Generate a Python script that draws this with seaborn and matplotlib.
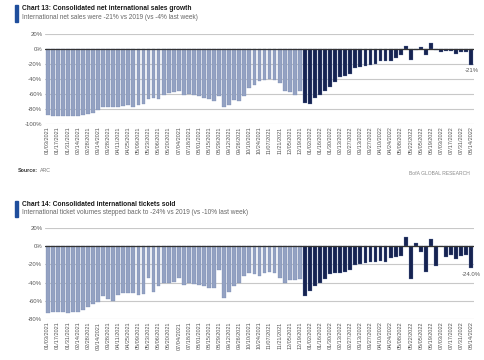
import matplotlib
matplotlib.use("Agg")
import matplotlib.pyplot as plt
import matplotlib.patches as patches
import seaborn as sns
import pandas as pd

# weekly dates, week ending (sunday)
weeks = pd.date_range("2021-01-03", periods=85, freq="7D").strftime("%m/%d/%Y").tolist()
n_light = 51  # older weeks drawn in light blue, rest in navy

# Chart 13: net international sales growth vs 2019 (%)
sales = [-88, -89, -89, -89, -90, -89, -89, -88, -87, -85, -81, -78, -77, -77, -77, -76, -75,
         -77, -75, -73, -67, -66, -67, -61, -59, -58, -56, -61, -60, -62, -63, -65, -67, -69,
         -63, -77, -75, -68, -70, -63,
         -52, -48, -43, -41, -40, -41, -45, -56, -57, -61, -56,
         -72, -73, -66, -61, -56, -51, -44, -38, -36, -34, -25, -24, -23, -21, -20, -16, -16,
         -16, -12, -8, 4, -15, -1, 2, -8, 8, -2, -4, -3, -3, -7, -4, -4, -21]

# Chart 14: international tickets sold vs 2019 (%)
tickets = [-73, -72, -72, -72, -73, -72, -72, -70, -67, -64, -61, -55, -58, -60, -54, -52, -51,
           -52, -54, -53, -35, -50, -44, -40, -40, -39, -35, -43, -41, -42, -43, -44, -46, -46,
           -26, -57, -50, -44,
           -41, -33, -30, -31, -33, -30, -28, -30, -35, -41, -37, -37, -36,
           -55, -49, -44, -40, -36, -31, -30, -29, -28, -26, -21, -20, -19, -18, -17, -16, -17,
           -13, -12, -11, 10, -36, 3, -7, -28, 8, -22, 0, -12, -10, -14, -11, -10, -24]

charts = [
    {"title": "Chart 13: Consolidated net international sales growth",
     "sub": "International net sales were -21% vs 2019 (vs -4% last week)",
     "vals": sales, "yticks": [20, 0, -20, -40, -60, -80, -100], "last": "-21%",
     "pos": [0.093, 0.656, 0.884, 0.250], "head": 0.985},
    {"title": "Chart 14: Consolidated international tickets sold",
     "sub": "International ticket volumes stepped back to -24% vs 2019 (vs -10% last week)",
     "vals": tickets, "yticks": [20, 0, -20, -40, -60, -80], "last": "-24.0%",
     "pos": [0.093, 0.114, 0.884, 0.253], "head": 0.442},
]

light = "#8c9fca"
navy = "#0c1d5b"
fam = ["Liberation Sans Narrow", "Liberation Sans", "DejaVu Sans"]

sns.set_style("white")
plt.rcParams["font.family"] = fam

fig = plt.figure(figsize=(4.85, 3.6), dpi=100)

for c in charts:
    df = pd.DataFrame({"week": weeks, "val": c["vals"],
                       "grp": ["old"] * n_light + ["new"] * (len(weeks) - n_light)})
    ax = fig.add_axes(c["pos"])
    for yv in c["yticks"]:
        ax.axhline(yv, color="#c8c8c8", lw=0.8, zorder=0)
    sns.barplot(data=df, x="week", y="val", hue="grp", palette={"old": light, "new": navy},
                dodge=False, width=0.75, legend=False, ax=ax, zorder=2,
                edgecolor="#6d82b0", linewidth=0.2)
    ax.axhline(0, color="#333333", lw=0.9, zorder=3)
    ax.set_ylim(min(c["yticks"]), max(c["yticks"]))
    ax.set_xlim(-0.5, len(weeks) - 0.5)
    ax.set_yticks(c["yticks"])
    ax.set_yticklabels([f"{v}%" for v in c["yticks"]], fontsize=4.3, color="#555555")
    ax.set_xticks(range(0, len(weeks), 2))
    ax.set_xticklabels(weeks[::2], rotation=90, fontsize=4.0, color="#555555")
    ax.tick_params(length=0, pad=2)
    ax.set_xlabel("")
    ax.set_ylabel("")
    for s in ax.spines.values():
        s.set_visible(False)
    ax.text(len(weeks) - 1, c["vals"][-1] - 4, c["last"], ha="center", va="top",
            fontsize=4.3, color="#555555")

    # header
    h = c["head"]
    fig.patches.append(patches.Rectangle((0.031, h - 0.045), 0.006, 0.045,
                                         transform=fig.transFigure, color="#1f4e9c"))
    fig.text(0.045, h - 0.009, c["title"], fontsize=4.8, fontweight="bold",
             color="#1a1a1a", va="center")
    fig.text(0.045, h - 0.033, c["sub"], fontsize=4.7, color="#666666", va="center")

fig.text(0.037, 0.522, "Source:", fontsize=3.8, fontweight="bold", color="#333333")
fig.text(0.082, 0.522, "ARC", fontsize=3.8, color="#777777")
fig.text(0.968, 0.513, "BofA GLOBAL RESEARCH", fontsize=3.6, color="#8a8a8a", ha="right")

fig.savefig("out.png", dpi=100)
